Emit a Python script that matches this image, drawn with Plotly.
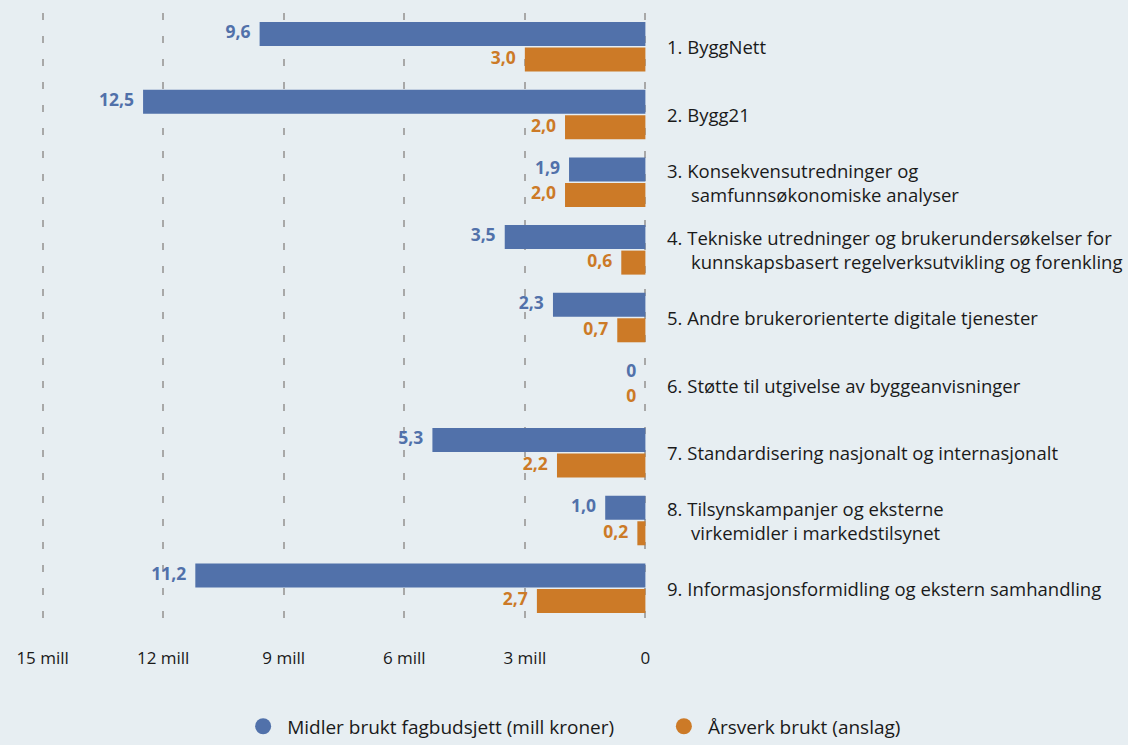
import plotly.graph_objects as go

categories = [
    "1. ByggNett",
    "2. Bygg21",
    "3. Konsekvensutredninger og\nsamfunnsøkonomiske analyser",
    "4. Tekniske utredninger og brukerundersøkelser for\nkunnskapsbasert regelverksutvikling og forenkling",
    "5. Andre brukerorienterte digitale tjenester",
    "6. Støtte til utgivelse av byggeanvisninger",
    "7. Standardisering nasjonalt og internasjonalt",
    "8. Tilsynskampanjer og eksterne\nvirkemidler i markedstilsynet",
    "9. Informasjonsformidling og ekstern samhandling",
]
midler = [9.6, 12.5, 1.9, 3.5, 2.3, 0, 5.3, 1.0, 11.2]
arsverk = [3.0, 2.0, 2.0, 0.6, 0.7, 0, 2.2, 0.2, 2.7]

tick_vals = [15, 12, 9, 6, 3, 0]
tick_text = ["15 mill", "12 mill", "9 mill", "6 mill", "3 mill", "0"]

series_names = ["Midler brukt fagbudsjett (mill kroner)", "Årsverk brukt (anslag)"]

BLUE = "#5171aa"
ORANGE = "#cc7a27"
BG = "#e7eef2"
FONT = "'Open Sans', Lato, sans-serif"


def fmt(v):
    return "0" if v == 0 else f"{v:.1f}".replace(".", ",")


keys = [c.split("\n")[0] for c in categories]

fig = go.Figure()

series = [(midler, BLUE, series_names[0], "a"), (arsverk, ORANGE, series_names[1], "b")]

for vals, color, name, grp in series:
    fig.add_trace(
        go.Bar(
            x=vals,
            y=keys,
            orientation="h",
            offsetgroup=grp,
            marker=dict(color=color, line=dict(width=0)),
            showlegend=False,
            hoverinfo="skip",
            name=name,
        )
    )

# value labels, aligned with the grouped bars
for vals, color, name, grp in series:
    fig.add_trace(
        go.Scatter(
            x=vals,
            y=keys,
            mode="text",
            orientation="h",
            offsetgroup=grp,
            text=[fmt(v) + "&nbsp;&nbsp;" for v in vals],
            textposition="middle left",
            textfont=dict(color=color, size=17.5, family=FONT, weight="bold"),
            cliponaxis=False,
            showlegend=False,
            hoverinfo="skip",
        )
    )

# legend with round markers, one legend per series
for i, (vals, color, name, grp) in enumerate(series):
    fig.add_trace(
        go.Scatter(
            x=[None],
            y=[None],
            mode="markers",
            marker=dict(size=19, color=color, symbol="circle"),
            name=name,
            legend="legend" if i == 0 else "legend2",
        )
    )

# category labels on the right
for key, cat in zip(keys, categories):
    lines = cat.split("\n")
    text = lines[0]
    for extra in lines[1:]:
        text += "<br>" + "&nbsp;" * 5 + extra
    fig.add_annotation(
        x=1,
        xref="paper",
        y=key,
        yref="y",
        xanchor="left",
        xshift=18,
        text=text,
        align="left",
        showarrow=False,
        font=dict(size=18.5, color="#1a1a1a", family=FONT),
    )

fig.update_xaxes(
    range=[15.04, -0.04],
    tickvals=tick_vals,
    ticktext=tick_text,
    showgrid=True,
    gridcolor="#a8a8a8",
    gridwidth=1.5,
    griddash="7px,16px",
    zeroline=False,
    showline=False,
    ticks="",
    ticklabelstandoff=24,
    tickfont=dict(size=17, color="#1a1a1a", family=FONT),
)

fig.update_yaxes(
    categoryorder="array",
    categoryarray=keys,
    autorange="reversed",
    showticklabels=False,
    showgrid=False,
    zeroline=False,
)

legend_style = dict(
    orientation="h",
    xref="container",
    yref="container",
    xanchor="left",
    y=0.025,
    yanchor="middle",
    font=dict(size=19, color="#1a1a1a", family=FONT),
    itemwidth=38,
    bgcolor="rgba(0,0,0,0)",
)

fig.update_layout(
    width=1128,
    height=745,
    barmode="group",
    scattermode="group",
    bargap=0.245,
    bargroupgap=0.06,
    paper_bgcolor=BG,
    plot_bgcolor=BG,
    font=dict(family=FONT, color="#1a1a1a"),
    margin=dict(l=41, r=481, t=13, b=123),
    legend=dict(legend_style, x=0.212),
    legend2=dict(legend_style, x=0.585),
)

fig.write_html(
    "out.html",
    config={"displayModeBar": False},
    post_script="document.body.style.margin='0';document.body.style.overflow='hidden';",
)
